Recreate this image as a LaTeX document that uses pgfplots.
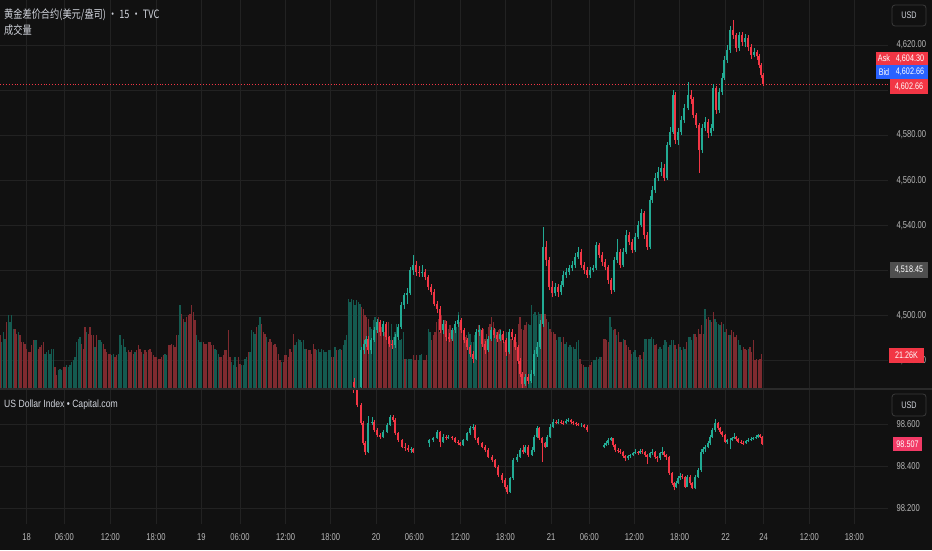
\documentclass[border=0pt]{standalone}
\usepackage{pgfplots}
\pgfplotsset{compat=1.18}
\usepackage{pgfplotstable}
\usepackage{fontspec}
\setmainfont{Liberation Sans}[FakeStretch=0.76]
\newfontfamily\lbl{Liberation Sans}[FakeStretch=0.82]
\newfontfamily\cjk{Noto Sans CJK SC}[FakeStretch=0.8]
\definecolor{bg}{HTML}{111111}
\definecolor{gridc}{HTML}{222222}
\definecolor{upc}{HTML}{22AB94}
\definecolor{dnc}{HTML}{F23645}
\definecolor{vup}{HTML}{145A50}
\definecolor{vdn}{HTML}{7E2A2F}
\definecolor{txt}{HTML}{B8B8B8}
\definecolor{ttl}{HTML}{D1D4DC}
\definecolor{bidc}{HTML}{2962FF}
\definecolor{lastgray}{HTML}{4F4F4F}
\definecolor{dxyc}{HTML}{F23A66}
\definecolor{sep}{HTML}{2A2A2A}
\definecolor{boxline}{HTML}{3A3A3A}

% volume (K), i = bar index, u = 1 up / 0 down
\pgfplotstableread{
i v u
0 32.6 0
1 28.5 1
2 34.7 1
3 30.5 1
4 40.9 0
5 45.0 1
6 40.9 1
7 45.0 1
8 36.7 1
9 36.7 0
10 33.6 0
11 34.7 1
12 32.6 0
13 28.5 0
14 28.5 0
15 27.5 0
16 24.4 0
17 22.3 0
18 22.3 0
19 26.4 0
20 29.5 0
21 29.5 1
22 29.5 1
23 24.4 0
24 25.4 0
25 26.4 0
26 28.5 0
27 21.3 1
28 22.3 1
29 23.3 1
30 21.3 1
31 24.4 1
32 24.4 1
33 13.0 0
34 7.8 0
35 10.9 1
36 12.0 1
37 10.9 1
38 13.0 0
39 13.0 0
40 14.0 1
41 13.0 1
42 14.0 1
43 16.1 1
44 17.1 1
45 19.2 1
46 28.5 1
47 30.5 1
48 31.6 1
49 27.5 0
50 24.4 0
51 37.8 0
52 34.7 1
53 33.6 0
54 37.8 0
55 32.6 0
56 32.6 0
57 25.4 1
58 32.6 0
59 29.5 1
60 29.5 1
61 28.5 1
62 27.5 0
63 24.4 0
64 22.3 0
65 21.3 0
66 21.3 0
67 20.2 1
68 21.3 1
69 19.2 0
70 20.2 0
71 21.3 1
72 32.6 1
73 26.4 1
74 30.5 1
75 25.4 1
76 22.3 1
77 23.3 0
78 22.3 0
79 23.3 0
80 21.3 0
81 22.3 1
82 23.3 0
83 26.4 0
84 24.4 0
85 22.3 0
86 21.3 1
87 23.3 0
88 22.3 0
89 23.3 0
90 24.4 0
91 22.3 0
92 20.2 0
93 19.2 0
94 19.2 0
95 18.2 0
96 18.2 0
97 19.2 0
98 20.2 0
99 21.3 1
100 20.2 1
101 26.4 0
102 26.4 0
103 27.5 0
104 26.4 0
105 25.4 0
106 32.6 0
107 32.6 1
108 51.2 1
109 46.0 0
110 42.9 0
111 40.9 1
112 44.0 0
113 45.0 0
114 46.0 0
115 51.2 0
116 47.1 0
117 41.9 0
118 32.6 1
119 29.5 1
120 28.5 1
121 28.5 1
122 28.5 0
123 27.5 0
124 27.5 0
125 28.5 0
126 28.5 0
127 26.4 0
128 26.4 0
129 24.4 1
130 23.3 1
131 21.3 1
132 19.2 0
133 19.2 0
134 20.2 0
135 23.3 0
136 23.3 0
137 35.7 0
138 19.2 0
139 16.1 1
140 14.0 1
141 19.2 1
142 13.0 0
143 19.2 0
144 15.1 0
145 14.0 1
146 14.0 1
147 18.2 1
148 19.2 1
149 22.3 0
150 22.3 1
151 35.7 1
152 34.7 1
153 33.6 1
154 37.8 0
155 38.8 1
156 44.0 1
157 39.8 0
158 34.7 0
159 33.6 0
160 31.6 1
161 28.5 0
162 30.5 0
163 28.5 0
164 26.4 0
165 27.5 0
166 25.4 0
167 21.3 0
168 17.1 0
169 16.1 1
170 16.1 0
171 20.2 0
172 20.2 0
173 19.2 0
174 24.4 0
175 22.3 0
176 33.6 0
177 26.4 1
178 28.5 1
179 30.5 1
180 29.5 1
181 28.5 1
182 29.5 1
183 24.4 1
184 24.4 0
185 23.3 0
186 23.3 0
187 21.3 0
188 27.5 0
189 24.4 0
190 23.3 1
191 24.4 1
192 22.3 1
193 24.4 1
194 23.3 1
195 22.3 1
196 22.3 1
197 23.3 1
198 23.3 1
199 19.2 0
200 19.2 0
201 25.4 1
202 23.3 0
203 23.3 1
204 24.4 1
205 23.3 0
206 26.4 1
207 29.5 1
208 32.6 1
209 55.3 1
210 53.3 1
211 55.3 1
212 54.3 1
213 51.2 1
214 54.3 1
215 53.3 1
216 52.2 1
217 50.2 0
218 49.1 0
219 45.0 0
220 44.0 0
221 42.9 0
222 37.8 1
223 36.7 1
224 41.9 1
225 44.0 1
226 39.8 0
227 44.0 0
228 38.8 0
229 37.8 0
230 34.7 0
231 34.7 0
232 36.7 0
233 40.9 0
234 29.5 0
235 39.8 1
236 31.6 1
237 34.7 1
238 39.8 1
239 32.6 1
240 29.5 1
241 30.5 1
242 34.7 1
243 18.2 0
244 18.2 1
245 18.2 1
246 18.2 1
247 18.2 1
248 20.2 0
249 17.1 0
250 20.2 0
251 17.1 1
252 20.2 1
253 21.3 1
254 17.1 0
255 17.1 0
256 20.2 0
257 36.7 1
258 34.7 1
259 29.5 0
260 32.6 0
261 34.7 0
262 40.9 0
263 42.9 0
264 34.7 0
265 45.0 0
266 36.7 0
267 41.9 0
268 37.8 0
269 36.7 0
270 38.8 0
271 32.6 0
272 35.7 0
273 35.7 1
274 37.8 1
275 47.1 1
276 40.9 0
277 36.7 0
278 35.7 0
279 31.6 0
280 32.6 0
281 34.7 1
282 33.6 1
283 28.5 1
284 28.5 1
285 32.6 1
286 35.7 1
287 38.8 0
288 36.7 1
289 34.7 0
290 36.7 0
291 30.5 0
292 33.6 0
293 37.8 0
294 39.8 0
295 44.0 0
296 40.9 0
297 36.7 1
298 34.7 0
299 35.7 0
300 36.7 0
301 32.6 0
302 29.5 0
303 28.5 0
304 34.7 1
305 33.6 0
306 30.5 0
307 30.5 0
308 29.5 0
309 26.4 0
310 28.5 0
311 39.8 0
312 44.0 0
313 36.7 0
314 35.7 0
315 38.8 0
316 40.9 0
317 39.8 1
318 38.8 1
319 51.2 1
320 46.0 1
321 47.1 1
322 45.0 1
323 47.1 1
324 46.0 1
325 46.0 0
326 44.0 0
327 46.0 0
328 42.9 0
329 40.9 1
330 36.7 0
331 34.7 0
332 34.7 0
333 33.6 0
334 29.5 1
335 31.6 1
336 31.6 1
337 28.5 0
338 31.6 0
339 27.5 1
340 28.5 1
341 25.4 1
342 26.4 1
343 25.4 1
344 25.4 1
345 24.4 1
346 28.5 1
347 29.5 1
348 18.2 0
349 15.1 0
350 14.0 0
351 13.0 1
352 13.0 1
353 13.0 1
354 14.0 0
355 16.1 0
356 17.1 1
357 17.1 1
358 19.2 1
359 18.2 1
360 19.2 1
361 19.2 0
362 30.5 0
363 30.5 0
364 29.5 0
365 28.5 0
366 44.0 1
367 37.8 1
368 35.7 1
369 36.7 0
370 32.6 1
371 34.7 0
372 28.5 0
373 28.5 0
374 30.5 1
375 29.5 0
376 26.4 0
377 25.4 0
378 23.3 0
379 21.3 1
380 22.3 1
381 23.3 1
382 19.2 1
383 19.2 1
384 20.2 0
385 18.2 1
386 22.3 0
387 30.5 1
388 30.5 1
389 30.5 1
390 30.5 1
391 31.6 1
392 30.5 1
393 26.4 0
394 27.5 0
395 24.4 1
396 25.4 1
397 24.4 1
398 26.4 1
399 29.5 1
400 28.5 1
401 25.4 0
402 26.4 1
403 29.5 1
404 29.5 1
405 26.4 0
406 24.4 1
407 27.5 0
408 25.4 1
409 23.3 0
410 25.4 1
411 24.4 1
412 28.5 0
413 31.6 1
414 31.6 1
415 29.5 1
416 33.6 1
417 33.6 0
418 31.6 0
419 36.7 0
420 33.6 0
421 38.8 0
422 33.6 0
423 49.1 1
424 42.9 0
425 44.0 0
426 41.9 1
427 40.9 0
428 47.1 0
429 42.9 1
430 40.9 1
431 39.8 1
432 38.8 1
433 40.9 0
434 39.8 1
435 34.7 1
436 36.7 0
437 32.6 0
438 32.6 1
439 35.7 0
440 34.7 0
441 31.6 0
442 32.6 0
443 29.5 1
444 26.4 1
445 23.3 1
446 25.4 0
447 24.4 0
448 23.3 0
449 24.4 1
450 25.4 0
451 22.3 0
452 29.5 0
453 17.1 0
454 18.2 0
455 17.1 0
456 18.2 0
457 21.26 0
}\vol

% gold CFD, 15 min candles (x = bar index)
\pgfplotstableread{
x o h l c
212.4 4470.5 4472 4467.8 4468.0
216.6 4468.0 4486 4467 4484.4
218.4 4484.4 4489 4483 4487.4
219.6 4487.4 4491 4486 4489.6
220.8 4489.6 4491 4483 4484.4
222.6 4484.4 4490 4483 4488.8
224.4 4488.8 4495 4488 4493.3
226.2 4493.3 4498.5 4492 4497.0
228.0 4497.0 4498 4491 4492.5
229.8 4492.5 4497.5 4491 4496.3
231.6 4496.3 4497 4489 4490.3
233.4 4490.3 4491 4486 4487.4
235.2 4487.4 4489 4485 4486.6
237.0 4486.6 4491.5 4485.5 4490.3
238.8 4490.3 4496 4489 4494.8
240.6 4494.8 4506 4494 4504.5
242.4 4504.5 4510 4503 4508.9
244.2 4508.9 4512 4505 4509.7
246.0 4509.7 4521.5 4509 4520.1
247.8 4520.1 4526.8 4518 4522.3
249.6 4522.3 4524 4517.5 4519.3
251.4 4519.3 4522 4517 4518.6
253.2 4518.6 4522.5 4517 4519.3
255.0 4519.3 4520.5 4515.5 4517.1
256.8 4517.1 4518 4511 4512.6
258.6 4512.6 4514 4509 4510.4
260.4 4510.4 4511.5 4504 4505.2
262.2 4505.2 4506.5 4501 4503.0
264.0 4503.0 4504 4492 4493.3
265.8 4493.3 4498 4491.5 4496.3
267.6 4496.3 4497.5 4488.5 4490.3
269.4 4490.3 4492 4488 4489.6
271.2 4489.6 4494.5 4488.5 4493.3
273.0 4493.3 4497.5 4492 4496.3
274.8 4496.3 4500 4495 4498.1
276.6 4498.1 4499 4492 4493.3
278.4 4493.3 4494.5 4487.5 4488.8
280.2 4488.8 4490 4484.5 4485.9
282.0 4485.9 4487 4481.5 4482.9
283.8 4482.9 4484 4479 4480.7
285.6 4480.7 4494 4480 4492.5
287.4 4492.5 4495.5 4491 4493.3
289.2 4493.3 4494.5 4486 4487.4
291.0 4487.4 4488.5 4483 4484.4
292.8 4484.4 4491 4483.5 4489.6
294.6 4489.6 4495 4488.5 4493.3
296.4 4493.3 4494.5 4490 4491.1
298.2 4491.1 4492.5 4488 4489.6
300.0 4489.6 4493.5 4488.5 4491.8
301.8 4491.8 4493 4487.5 4488.8
303.6 4488.8 4490 4482 4483.6
305.4 4483.6 4494 4483 4492.5
307.2 4492.5 4494 4489 4490.3
309.0 4490.3 4491.5 4484.5 4485.9
310.8 4485.9 4487 4478.5 4479.9
312.0 4479.9 4481 4472.5 4474.0
313.2 4474.0 4475 4467.8 4469.5
315.0 4469.5 4474 4468.5 4472.5
316.8 4472.5 4474 4469.5 4471.0
318.6 4471.0 4475.5 4470 4474.0
320.4 4474.0 4484.5 4473 4482.9
322.2 4482.9 4488 4481.5 4485.9
324.0 4485.9 4498 4485 4496.3
325.8 4496.3 4539 4495 4530.5
327.6 4530.5 4533 4522 4524.5
329.4 4524.5 4526 4511 4512.6
331.2 4512.6 4515 4508 4509.7
333.0 4509.7 4514.5 4508.5 4512.6
334.8 4512.6 4514 4508 4510.4
336.6 4510.4 4515 4509 4513.4
337.8 4513.4 4519.5 4512.5 4517.8
339.6 4517.8 4521 4516.5 4519.3
341.4 4519.3 4522.5 4518 4520.8
343.2 4520.8 4524 4519.5 4522.3
345.0 4522.3 4527.5 4521 4526.0
346.8 4526.0 4530.5 4525 4528.2
348.6 4528.2 4529.5 4521 4522.3
350.4 4522.3 4523.5 4518.5 4520.1
352.2 4520.1 4521.5 4516.5 4517.8
354.0 4517.8 4521.5 4516.5 4520.1
355.8 4520.1 4522.5 4519 4520.8
357.6 4520.8 4532.5 4520 4531.2
359.4 4531.2 4532 4525.5 4526.8
361.2 4526.8 4528 4522 4523.8
363.0 4523.8 4525 4520 4521.5
364.8 4521.5 4522.5 4514 4515.6
366.6 4515.6 4516.5 4509.5 4511.1
368.4 4511.1 4526 4510.5 4524.5
370.2 4524.5 4534 4523 4528.2
372.0 4528.2 4529.5 4521 4522.3
373.8 4522.3 4530 4521.5 4528.2
375.6 4528.2 4538 4527 4535.7
377.4 4535.7 4537 4531 4532.7
379.2 4532.7 4534 4527.5 4529.0
381.0 4529.0 4536.5 4528 4534.9
382.8 4534.9 4542 4534 4540.1
384.6 4540.1 4547 4539 4545.4
386.4 4545.4 4546.5 4534 4535.7
388.2 4535.7 4537 4529 4530.5
390.0 4530.5 4553 4529.5 4551.2
391.2 4551.2 4557.5 4550 4555.6
393.0 4555.6 4563 4554.5 4561.0
394.8 4561.0 4566 4559.5 4563.6
396.6 4563.6 4568 4562 4565.4
398.4 4565.4 4567 4559.5 4561.0
400.2 4561.0 4577 4560 4575.6
402.0 4575.6 4583.5 4574.5 4581.4
403.8 4581.4 4600 4580.5 4597.8
405.0 4597.8 4599 4576 4577.8
406.8 4577.8 4583 4575.5 4581.4
408.6 4581.4 4588.5 4580 4586.7
410.4 4586.7 4594 4585.5 4592.0
412.8 4592.0 4603.4 4591 4597.8
414.6 4597.8 4600 4594 4596.0
415.8 4596.0 4597 4587.5 4588.9
417.6 4588.9 4590 4583 4584.5
419.4 4584.5 4585.5 4563.2 4573.4
421.2 4573.4 4585 4572 4583.2
423.0 4583.2 4588 4582 4585.8
424.8 4585.8 4587 4578.5 4580.9
426.6 4580.9 4585 4579.5 4583.2
427.8 4583.2 4602.5 4582 4600.9
429.6 4600.9 4602 4589.5 4591.1
431.4 4591.1 4601 4590 4599.1
433.2 4599.1 4607.5 4598 4605.4
434.4 4605.4 4615 4604.5 4613.3
436.2 4613.3 4620 4612 4617.8
438.0 4617.8 4628.5 4616.5 4626.7
439.8 4626.7 4631.1 4622.5 4624.4
441.6 4624.4 4625.5 4617 4618.7
443.4 4618.7 4626 4617.5 4624.4
445.2 4624.4 4626 4619.5 4621.3
447.0 4621.3 4625 4619 4623.1
448.8 4623.1 4624.5 4617.5 4619.0
450.6 4619.0 4620.5 4614 4615.6
452.4 4615.6 4618.5 4614.5 4616.9
454.2 4616.9 4618 4613.5 4615.0
455.4 4615.0 4616 4610 4611.1
456.6 4611.1 4612 4605.5 4606.7
457.8 4606.7 4607.5 4601.8 4602.66
}\gold

% US Dollar Index, 15 min candles
\pgfplotstableread{
x o h l c
211.8 98.780 98.790 98.750 98.763
214.2 98.763 98.770 98.680 98.692
216.6 98.692 98.700 98.595 98.605
217.8 98.605 98.615 98.500 98.509
219.0 98.509 98.520 98.455 98.470
220.8 98.470 98.640 98.465 98.605
223.2 98.605 98.635 98.595 98.613
224.4 98.613 98.620 98.565 98.573
226.2 98.573 98.580 98.540 98.549
228.0 98.549 98.560 98.530 98.541
229.8 98.541 98.575 98.535 98.565
232.2 98.565 98.605 98.560 98.597
234.0 98.597 98.645 98.590 98.636
235.8 98.636 98.645 98.610 98.621
237.0 98.621 98.630 98.550 98.557
238.8 98.557 98.565 98.515 98.525
241.2 98.525 98.530 98.485 98.494
243.0 98.494 98.510 98.475 98.486
244.8 98.486 98.500 98.470 98.478
246.6 98.478 98.490 98.465 98.480
247.8 98.480 98.485 98.465 98.470
257.4 98.510 98.530 98.490 98.525
259.8 98.525 98.540 98.515 98.533
262.2 98.533 98.575 98.530 98.565
264.0 98.565 98.570 98.490 98.517
265.8 98.517 98.555 98.510 98.541
267.6 98.541 98.550 98.525 98.535
268.8 98.535 98.550 98.530 98.541
271.2 98.541 98.545 98.525 98.533
273.0 98.533 98.540 98.510 98.517
274.8 98.517 98.525 98.500 98.510
276.0 98.510 98.515 98.495 98.501
277.8 98.501 98.530 98.495 98.525
280.2 98.525 98.565 98.520 98.557
282.0 98.557 98.590 98.550 98.581
283.8 98.581 98.600 98.575 98.589
285.0 98.589 98.595 98.525 98.533
286.8 98.533 98.540 98.500 98.509
289.2 98.509 98.515 98.485 98.494
291.0 98.494 98.500 98.470 98.478
292.8 98.478 98.485 98.440 98.446
295.2 98.446 98.455 98.420 98.430
297.0 98.430 98.435 98.390 98.398
298.8 98.398 98.405 98.350 98.359
301.2 98.359 98.370 98.320 98.335
303.0 98.335 98.345 98.290 98.303
304.2 98.303 98.310 98.270 98.279
306.0 98.279 98.350 98.275 98.343
307.8 98.343 98.440 98.335 98.430
310.2 98.430 98.460 98.420 98.446
312.0 98.446 98.485 98.440 98.478
313.8 98.478 98.500 98.460 98.470
315.0 98.470 98.500 98.465 98.494
316.8 98.494 98.500 98.445 98.454
319.2 98.454 98.490 98.450 98.478
320.4 98.478 98.550 98.470 98.541
322.2 98.541 98.590 98.535 98.581
323.4 98.581 98.585 98.525 98.533
325.2 98.533 98.540 98.420 98.509
327.0 98.509 98.515 98.485 98.494
328.2 98.494 98.550 98.490 98.541
330.0 98.541 98.600 98.535 98.589
331.8 98.589 98.625 98.580 98.613
333.6 98.613 98.620 98.600 98.605
334.8 98.605 98.625 98.600 98.613
336.6 98.613 98.620 98.600 98.607
337.8 98.607 98.615 98.595 98.605
339.6 98.605 98.625 98.600 98.615
340.8 98.615 98.630 98.610 98.621
342.6 98.621 98.625 98.600 98.610
343.8 98.610 98.615 98.595 98.605
345.6 98.605 98.610 98.590 98.600
346.8 98.600 98.605 98.590 98.597
348.6 98.597 98.605 98.585 98.597
350.4 98.597 98.600 98.580 98.589
352.2 98.589 98.595 98.565 98.573
362.4 98.490 98.510 98.485 98.501
363.6 98.501 98.520 98.495 98.510
364.8 98.510 98.535 98.500 98.525
366.6 98.525 98.540 98.520 98.533
367.8 98.533 98.535 98.490 98.500
369.0 98.500 98.505 98.470 98.478
370.8 98.478 98.485 98.465 98.475
372.0 98.475 98.480 98.460 98.470
373.8 98.470 98.475 98.440 98.450
375.0 98.450 98.455 98.425 98.438
376.8 98.438 98.455 98.430 98.448
378.0 98.448 98.460 98.440 98.454
379.8 98.454 98.470 98.450 98.465
381.0 98.465 98.480 98.460 98.470
382.8 98.470 98.475 98.455 98.465
384.0 98.465 98.480 98.460 98.472
385.2 98.472 98.480 98.460 98.470
387.0 98.470 98.475 98.445 98.455
388.2 98.455 98.460 98.410 98.446
390.0 98.446 98.470 98.440 98.462
391.2 98.462 98.480 98.455 98.470
393.0 98.470 98.475 98.435 98.445
394.2 98.445 98.450 98.420 98.438
396.0 98.438 98.470 98.430 98.462
397.2 98.462 98.490 98.455 98.470
398.4 98.470 98.475 98.445 98.455
399.6 98.455 98.460 98.430 98.446
401.4 98.446 98.450 98.360 98.367
403.2 98.367 98.375 98.310 98.319
404.4 98.319 98.325 98.285 98.303
405.6 98.303 98.330 98.295 98.320
406.8 98.320 98.355 98.315 98.343
408.0 98.343 98.370 98.335 98.355
409.2 98.355 98.365 98.340 98.351
411.0 98.351 98.355 98.295 98.303
412.2 98.303 98.360 98.300 98.351
414.0 98.351 98.360 98.310 98.320
415.2 98.320 98.325 98.290 98.295
417.0 98.295 98.360 98.290 98.351
418.8 98.351 98.390 98.345 98.382
420.6 98.382 98.480 98.375 98.470
421.8 98.470 98.490 98.460 98.480
423.0 98.480 98.500 98.470 98.494
424.8 98.494 98.520 98.485 98.509
426.0 98.509 98.550 98.500 98.540
427.2 98.540 98.580 98.535 98.573
429.0 98.573 98.625 98.565 98.605
430.8 98.605 98.610 98.575 98.581
432.0 98.581 98.585 98.555 98.565
433.2 98.565 98.570 98.540 98.549
435.0 98.549 98.555 98.510 98.517
436.2 98.517 98.530 98.505 98.525
438.0 98.525 98.535 98.480 98.525
439.2 98.525 98.540 98.520 98.533
440.4 98.533 98.560 98.530 98.541
441.6 98.541 98.545 98.520 98.530
442.8 98.530 98.535 98.510 98.517
444.6 98.517 98.525 98.505 98.512
445.8 98.512 98.520 98.500 98.509
447.6 98.509 98.525 98.505 98.520
448.8 98.520 98.535 98.515 98.525
450.6 98.525 98.540 98.520 98.530
451.8 98.530 98.540 98.525 98.533
453.6 98.533 98.550 98.530 98.540
454.8 98.540 98.555 98.535 98.549
456.0 98.549 98.555 98.535 98.540
457.2 98.540 98.545 98.500 98.507
}\dxy

\pgfplotsset{
  base/.style={scale only axis, width=888pt, xmin=0, xmax=532.8,
    axis line style={draw=none}, major tick length=0pt, anchor=south west},
  tl/.style={font=\fontsize{10}{12}\selectfont, text=txt},
  nomark/.style={only marks, mark=*, mark size=0pt,
    mark options={draw=none, fill=none}, forget plot},
  upw/.style={nomark,
    restrict expr to domain={\thisrow{c}-\thisrow{o}}{0:1000},
    error bars/.cd, y dir=plus, y explicit, error mark=none,
    error bar style={draw=upc, line width=0.6pt}},
  dnw/.style={nomark,
    restrict expr to domain={\thisrow{c}-\thisrow{o}}{-1000:-0.00001},
    error bars/.cd, y dir=plus, y explicit, error mark=none,
    error bar style={draw=dnc, line width=0.6pt}},
  upb/.style={nomark,
    restrict expr to domain={\thisrow{c}-\thisrow{o}}{0:1000},
    error bars/.cd, y dir=plus, y explicit, error mark=none,
    error bar style={draw=upc, line width=#1, line cap=butt}},
  dnb/.style={nomark,
    restrict expr to domain={\thisrow{c}-\thisrow{o}}{-1000:-0.00001},
    error bars/.cd, y dir=plus, y explicit, error mark=none,
    error bar style={draw=dnc, line width=#1, line cap=butt}},
}

\begin{document}
\begin{tikzpicture}[x=1pt,y=1pt]
\fill[bg] (0,0) rectangle (932,550);
\useasboundingbox (0,0) rectangle (932,550);

% ---- main panel grid and price scale
\begin{axis}[base, at={(0pt,162pt)}, height=388pt, ymin=4467.7, ymax=4640,
  xtick={16.0,38.6,66.2,93.6,120.8,144.0,171.4,198.4,225.6,248.6,276.2,303.2,330.6,353.6,380.6,407.8,435.4,458.2,485.6,512.6},
  xticklabels={},
  ytick={4480,4500,4520,4540,4560,4580,4600,4620},
  grid=major, grid style={draw=gridc, line width=0.8pt},
  yticklabel pos=right,
  yticklabel style={tl, anchor=west, xshift=5pt},
  /pgf/number format/fixed, /pgf/number format/fixed zerofill,
  /pgf/number format/precision=2, /pgf/number format/1000 sep={,},
  /pgf/number format/assume math mode=true]
\addplot[draw=none] coordinates {(0,4500)};
\end{axis}

% ---- volume
\begin{axis}[base, hide axis, at={(0pt,162pt)}, height=388pt, ymin=0, ymax=240.3]
\addplot[ycomb, vup, line width=1.35pt, restrict expr to domain={\thisrow{u}}{0.5:1.5}] table[x=i, y=v]{\vol};
\addplot[ycomb, vdn, line width=1.35pt, restrict expr to domain={\thisrow{u}}{-0.5:0.5}] table[x=i, y=v]{\vol};
\end{axis}

% ---- gold candles
\begin{axis}[base, hide axis, at={(0pt,162pt)}, height=388pt, ymin=4467.7, ymax=4640]
\addplot[dnc, dotted, line width=0.9pt] coordinates {(0,4602.66) (532.8,4602.66)};
\addplot[upw] table[x=x, y=l, y error plus expr=\thisrow{h}-\thisrow{l}]{\gold};
\addplot[dnw] table[x=x, y=l, y error plus expr=\thisrow{h}-\thisrow{l}]{\gold};
\addplot[upb=2.5pt] table[x=x, y=o, y error plus expr=\thisrow{c}-\thisrow{o}]{\gold};
\addplot[dnb=2.5pt] table[x=x, y=c, y error plus expr=\thisrow{o}-\thisrow{c}]{\gold};
\end{axis}

% ---- US Dollar Index panel
\begin{axis}[base, at={(0pt,26pt)}, height=135pt, ymin=98.125, ymax=98.768,
  xtick={16.0,38.6,66.2,93.6,120.8,144.0,171.4,198.4,225.6,248.6,276.2,303.2,330.6,353.6,380.6,407.8,435.4,458.2,485.6,512.6},
  xticklabels={18,06:00,12:00,18:00,19,06:00,12:00,18:00,20,06:00,12:00,18:00,21,06:00,12:00,18:00,22,24,12:00,18:00},
  xticklabel style={tl, yshift=-6pt},
  ytick={98.2,98.4,98.6},
  grid=major, grid style={draw=gridc, line width=0.8pt},
  yticklabel pos=right,
  yticklabel style={tl, anchor=west, xshift=5pt},
  /pgf/number format/fixed, /pgf/number format/fixed zerofill,
  /pgf/number format/precision=3,
  /pgf/number format/assume math mode=true]
\addplot[upw] table[x=x, y=l, y error plus expr=\thisrow{h}-\thisrow{l}]{\dxy};
\addplot[dnw] table[x=x, y=l, y error plus expr=\thisrow{h}-\thisrow{l}]{\dxy};
\addplot[upb=2.3pt] table[x=x, y=o, y error plus expr=\thisrow{c}-\thisrow{o}]{\dxy};
\addplot[dnb=2.3pt] table[x=x, y=c, y error plus expr=\thisrow{o}-\thisrow{c}]{\dxy};
\end{axis}

% ---- panel separator
\draw[sep, line width=1.4pt] (0,161) -- (932,161);

% ---- titles
\node[anchor=west, text=ttl, inner sep=0] at (4,535) {\cjk\fontsize{11.5}{13}\selectfont 黄金差价合约(美元/盎司) • 15 • TVC};
\node[anchor=west, text=ttl, inner sep=0] at (4,520) {\cjk\fontsize{11.5}{13}\selectfont 成交量};
\node[anchor=west, text=ttl, inner sep=0] at (4,145) {\lbl\fontsize{10.5}{12}\selectfont US Dollar Index • Capital.com};

% ---- price scale labels
\draw[boxline, line width=0.8pt, rounded corners=3pt] (892,545) rectangle (926,524);
\node[text=ttl, font=\fontsize{9.5}{11}\selectfont] at (909,534.5) {USD};
\draw[boxline, line width=0.8pt, rounded corners=3pt] (892,156) rectangle (926,134);
\node[text=ttl, font=\fontsize{9.5}{11}\selectfont] at (909,145) {USD};

\fill[dnc] (876,485) rectangle (892,498);
\fill[dnc] (892,485) rectangle (928,498);
\node[white, font=\fontsize{9.5}{11}\selectfont] at (884,491.5) {Ask};
\node[white, font=\fontsize{9.5}{11}\selectfont] at (910,491.5) {4,604.30};
\fill[bidc] (876,471) rectangle (892,485);
\fill[bidc] (892,471) rectangle (928,485);
\node[white, font=\fontsize{9.5}{11}\selectfont] at (884,478) {Bid};
\node[white, font=\fontsize{9.5}{11}\selectfont] at (910,478) {4,602.66};
\fill[dnc] (890,456) rectangle (928,471);
\node[white, font=\fontsize{9.5}{11}\selectfont] at (909,463.5) {4,602.66};
\fill[lastgray] (890,272) rectangle (928,288);
\node[white, font=\fontsize{9.5}{11}\selectfont] at (909,280) {4,518.45};
\fill[dnc] (889,187) rectangle (924,202);
\node[white, font=\fontsize{9.5}{11}\selectfont] at (906.5,194.5) {21.26K};
\fill[dxyc] (893,99) rectangle (922,113);
\node[white, font=\fontsize{9.5}{11}\selectfont] at (907.5,106) {98.507};
\end{tikzpicture}
\end{document}
